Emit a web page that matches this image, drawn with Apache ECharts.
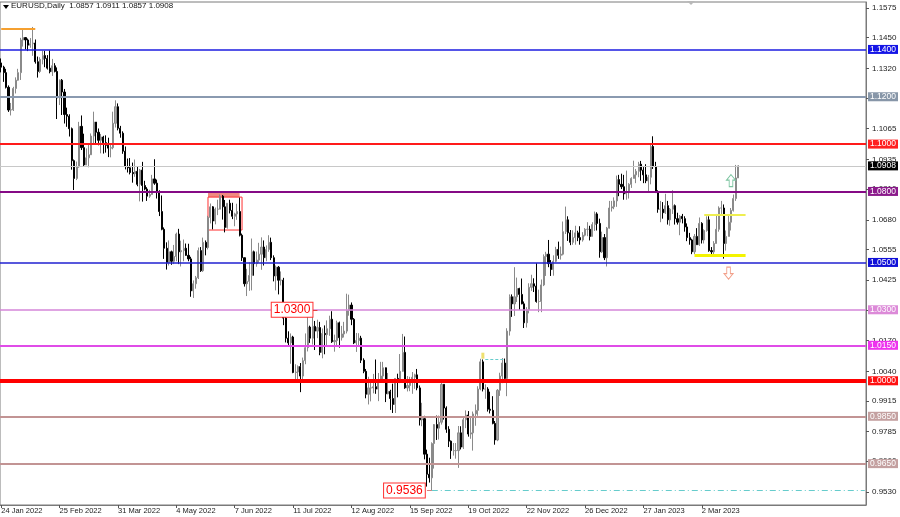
<!DOCTYPE html>
<html><head><meta charset="utf-8">
<script src="https://cdn.jsdelivr.net/npm/echarts@6/dist/echarts.min.js"></script>
<style>html,body{margin:0;padding:0;background:#fff}#c{width:900px;height:517px}</style>
</head><body><div id="c"></div><script>
// Daily EURUSD candles, [open, high, low, close] in units of 0.0001
const jan22 = [[11343,11362,11303,11325],[11325,11331,11263,11302],[11302,11318,11235,11240],[11240,11248,11136,11144],[11144,11174,11121,11145],[11145,11242,11140,11235]];
const feb22 = [[11235,11282,11214,11270],[11270,11318,11268,11302],[11302,11449,11271,11440],[11440,11484,11412,11450],[11450,11448,11400,11440],[11440,11446,11393,11418],[11418,11448,11407,11424],[11424,11495,11373,11427],[11427,11442,11340,11348],[11348,11370,11281,11307],[11307,11367,11300,11358],[11358,11395,11337,11374],[11374,11394,11325,11362],[11362,11376,11315,11321],[11321,11396,11299,11306],[11306,11360,11288,11331],[11331,11342,11303,11307],[11307,11324,11106,11195],[11195,11273,11165,11270],[11270,11275,11123,11220]];
const mar22 = [[11220,11233,11087,11125],[11125,11154,11073,11118],[11118,11126,11032,11065],[11065,11070,10892,10930],[10930,10935,10806,10855],[10855,10926,10848,10904],[10904,11094,10900,11075],[11075,11121,10975,10985],[10985,11044,10905,10912],[10912,10982,10911,10942],[10942,10998,10902,10955],[10955,11045,10954,11034],[11034,11137,11002,11093],[11093,11092,11001,11050],[11050,11066,10995,11016],[11016,11043,10961,11030],[11030,11035,10960,11006],[11006,11037,10964,10995],[10995,11027,10945,10983],[10983,11001,10944,10985],[10985,11137,10978,11088],[11088,11185,11070,11158],[11158,11172,11058,11067]];
const apr22 = [[11067,11077,11027,11046],[11046,11054,10959,10970],[10970,10990,10893,10905],[10905,10939,10880,10900],[10900,10941,10872,10880],[10880,10922,10837,10875],[10875,10935,10862,10885],[10885,10907,10822,10830],[10830,10895,10758,10890],[10890,10925,10757,10825],[10825,10845,10805,10810],[10810,10818,10760,10780],[10780,10807,10773,10787],[10787,10870,10786,10853],[10853,10936,10828,10835],[10835,10850,10770,10800],[10800,10805,10696,10715],[10715,10783,10636,10640],[10640,10648,10515,10560],[10560,10585,10470,10500],[10500,10593,10487,10545]];
const may22 = [[10545,10550,10490,10505],[10505,10574,10493,10525],[10525,10626,10505,10620],[10620,10642,10493,10545],[10545,10592,10483,10550],[10550,10597,10505,10560],[10560,10580,10528,10530],[10530,10579,10505,10515],[10515,10524,10355,10380],[10380,10424,10350,10410],[10410,10443,10389,10435],[10435,10563,10430,10550],[10550,10565,10460,10465],[10465,10605,10460,10585],[10585,10593,10530,10563],[10563,10697,10555,10690],[10690,10749,10665,10735],[10735,10738,10640,10675],[10675,10732,10661,10725],[10725,10765,10700,10725],[10725,10787,10725,10780],[10780,10785,10681,10735]];
const jun22 = [[10735,10764,10627,10648],[10648,10751,10643,10750],[10750,10765,10707,10720],[10720,10752,10683,10695],[10695,10710,10653,10705],[10705,10748,10680,10715],[10715,10774,10610,10615],[10615,10622,10506,10520],[10520,10520,10398,10410],[10410,10473,10358,10420],[10420,10500,10380,10445],[10445,10601,10382,10545],[10545,10550,10444,10495],[10495,10546,10482,10510],[10510,10583,10499,10535],[10535,10606,10469,10565],[10565,10593,10487,10520],[10520,10572,10505,10555],[10555,10615,10545,10585],[10585,10605,10510,10520],[10520,10530,10420,10443],[10443,10487,10382,10480]];
const jul22 = [[10480,10485,10365,10425],[10425,10462,10403,10425],[10425,10435,10235,10265],[10265,10275,10162,10180],[10180,10209,10145,10160],[10160,10200,10072,10185],[10185,10190,10032,10035],[10035,10070,9999,10037],[10037,10065,9998,10060],[10060,10075,9952,10020],[10020,10098,10005,10085],[10085,10200,10070,10140],[10140,10270,10124,10227],[10227,10233,10160,10180],[10180,10279,10153,10230],[10230,10253,10130,10210],[10210,10258,10180,10225],[10225,10249,10108,10120],[10120,10221,10095,10200],[10200,10234,10112,10195],[10195,10255,10145,10220]];
const aug22 = [[10220,10275,10190,10260],[10260,10294,10160,10165],[10165,10195,10123,10170],[10170,10254,10150,10245],[10245,10250,10140,10182],[10182,10232,10170,10198],[10198,10249,10183,10210],[10210,10368,10200,10297],[10297,10364,10275,10320],[10320,10331,10235,10260],[10260,10265,10155,10160],[10160,10202,10122,10170],[10170,10201,10150,10180],[10180,10190,10075,10087],[10087,10095,10032,10040],[10040,10050,9926,9943],[9943,10017,9900,9970],[9970,9999,9913,9970],[9970,10029,9947,9975],[9975,10090,9945,9965],[9965,10033,9914,10000],[10000,10080,9998,10020],[10020,10080,9999,10055]];
const sep22 = [[10055,10056,9910,9945],[9945,10033,9943,9955],[9955,9962,9877,9925],[9925,9988,9864,9900],[9900,10011,9864,10010],[10010,10030,9930,10000],[10000,10113,9990,10040],[10040,10198,10038,10120],[10120,10187,9966,9970],[9970,10020,9955,9980],[9980,10017,9956,9995],[9995,10037,9945,10015],[10015,10030,9966,10025],[10025,10050,9960,9970],[9970,9980,9811,9835],[9835,9907,9808,9840],[9840,9852,9668,9690],[9690,9709,9553,9605],[9605,9675,9570,9590],[9590,9740,9536,9735],[9735,9817,9629,9815],[9815,9853,9750,9800]];
const oct22 = [[9800,9853,9752,9825],[9825,9999,9815,9985],[9985,9985,9836,9885],[9885,9892,9780,9795],[9795,9808,9720,9745],[9745,9748,9670,9705],[9705,9737,9684,9705],[9705,9737,9671,9705],[9705,9809,9632,9780],[9780,9808,9710,9720],[9720,9849,9712,9835],[9835,9875,9800,9855],[9855,9872,9764,9775],[9775,9845,9755,9780],[9780,9870,9705,9860],[9860,9900,9810,9875],[9875,9977,9852,9965],[9965,10093,9960,10080],[10080,10090,9955,9965],[9965,9985,9924,9965],[9965,9973,9870,9880]];
const nov22 = [[9880,9954,9862,9875],[9875,9935,9816,9820],[9820,9830,9730,9750],[9750,9965,9745,9960],[9960,10034,9936,10020],[10020,10096,9990,10075],[10075,10094,9992,10010],[10010,10222,9935,10210],[10210,10365,10191,10355],[10355,10365,10270,10325],[10325,10480,10274,10355],[10355,10436,10333,10390],[10390,10393,10300,10365],[10365,10432,10323,10325],[10325,10335,10223,10245],[10245,10311,10225,10300],[10300,10412,10285,10395],[10395,10448,10380,10410],[10410,10433,10375,10400],[10400,10497,10330,10335],[10335,10385,10290,10335],[10335,10428,10290,10405]];
const dec22 = [[10405,10534,10400,10525],[10525,10545,10443,10535],[10535,10595,10480,10495],[10495,10510,10443,10470],[10470,10530,10444,10505],[10505,10566,10501,10555],[10555,10588,10515,10530],[10530,10567,10512,10535],[10535,10673,10530,10630],[10630,10736,10620,10680],[10680,10695,10591,10625],[10625,10637,10573,10585],[10585,10636,10575,10605],[10605,10655,10575,10625],[10625,10634,10590,10605],[10605,10653,10575,10595],[10595,10628,10588,10615],[10615,10645,10610,10640],[10640,10670,10611,10640],[10640,10655,10593,10610],[10610,10670,10610,10660],[10660,10715,10633,10705]];
const jan23 = [[10705,10712,10635,10665],[10665,10685,10520,10545],[10545,10630,10540,10605],[10605,10620,10510,10520],[10520,10650,10483,10645],[10645,10760,10643,10730],[10730,10760,10715,10735],[10735,10775,10725,10760],[10760,10867,10735,10850],[10850,10870,10780,10830],[10830,10875,10810,10820],[10820,10870,10765,10790],[10790,10888,10765,10795],[10795,10835,10770,10830],[10830,10860,10815,10855],[10855,10930,10855,10870],[10870,10895,10835,10885],[10885,10925,10860,10915],[10915,10929,10845,10890],[10890,10903,10835,10870],[10870,10915,10835,10845],[10845,10870,10800,10860]];
const feb23 = [[10860,11000,10830,10990],[10990,11033,10895,10905],[10905,10925,10795,10795],[10795,10805,10710,10725],[10725,10760,10670,10725],[10725,10755,10685,10710],[10710,10790,10705,10740],[10740,10760,10660,10680],[10680,10730,10655,10725],[10725,10805,10705,10740],[10740,10745,10660,10685],[10685,10710,10660,10670],[10670,10700,10615,10695],[10695,10705,10665,10685],[10685,10695,10630,10650],[10650,10665,10590,10605],[10605,10625,10575,10595],[10595,10600,10535,10545],[10545,10620,10535,10610],[10610,10645,10575,10575]];
const mar23 = [[10575,10690,10570,10665],[10665,10670,10580,10595],[10595,10640,10580,10635],[10635,10695,10630,10680],[10680,10695,10545,10550],[10550,10565,10524,10545],[10545,10590,10535,10580],[10580,10705,10580,10640],[10640,10737,10630,10730],[10730,10760,10705,10730],[10730,10745,10516,10580],[10580,10635,10550,10610],[10610,10700,10610,10670],[10670,10730,10635,10720],[10720,10787,10715,10770],[10770,10912,10760,10857],[10857,10911,10857,10908]];

const xTickLabels = ['24 Jan 2022','25 Feb 2022','31 Mar 2022','4 May 2022','7 Jun 2022','11 Jul 2022','12 Aug 2022','15 Sep 2022','19 Oct 2022','22 Nov 2022','26 Dec 2022','27 Jan 2023','2 Mar 2023'];
const yTickValues = [1.1575,1.1450,1.1320,1.1195,1.1065,1.0935,1.0810,1.0680,1.0555,1.0425,1.0300,1.0170,1.0040,0.9915,0.9785,0.9660,0.9530];
const levels = [1.1400,1.1200,1.1000,1.0800,1.0500,1.0300,1.0150,1.0000,0.9850,0.9650];
const yRange = [0.94752, 1.16004];
const slotCount = 356;

// annotation values [index, price]
const topMarker = [[0,1.1487],[14,1.1487]];
const lowValue = 0.9536, lowIndex = 177;
const textLevel = [130, 1.0300];
const filledBox = [[85,1.0802],[98,1.0776]];
const outlineBox = [[85,1.0776],[99,1.0637]];
const yellowUpper = [[289,1.0700],[306,1.0700]];
const yellowLower = [[285,1.0532],[306,1.0532]];
const upArrow = [300,1.0846], downArrow = [299,1.0455];
const octMark = [198,1.0106];
const octDash = [[199,1.0092],[207,1.0092]];

const levelStyles = [
  {line:'#1c1ce0', w:1.5, tag:'#1414e6'},
  {line:'#8a9ab0', w:2, tag:'#8796a8'},
  {line:'#ff1a1a', w:2, tag:'#ff2020'},
  {line:'#850a85', w:2, tag:'#8b1a8b'},
  {line:'#2020d0', w:1.5, tag:'#1010d8'},
  {line:'#d486d8', w:1.5, tag:'#dc8ad8'},
  {line:'#e04ce8', w:2, tag:'#ee33ee'},
  {line:'#ff0000', w:4, tag:'#ff1010'},
  {line:'#c29494', w:2, tag:'#c4a0a0'},
  {line:'#c29494', w:2, tag:'#c4a0a0'}
];

const months = ['Jan','Feb','Mar','Apr','May','Jun','Jul','Aug','Sep','Oct','Nov','Dec'];
const categories = [];
{
  let d = new Date(Date.UTC(2022,0,24));
  while (categories.length < slotCount) {
    const wd = d.getUTCDay();
    if (wd !== 0 && wd !== 6) categories.push(d.getUTCDate()+' '+months[d.getUTCMonth()]+' '+d.getUTCFullYear());
    d = new Date(d.getTime() + 86400000);
  }
}
const candles = [].concat(jan22,feb22,mar22,apr22,may22,jun22,jul22,aug22,sep22,oct22,nov22,dec22,jan23,feb23,mar23);
const data = candles.map(([o,h,l,c]) => [o/1e4, c/1e4, l/1e4, h/1e4]);
const last = candles[candles.length-1].map(v => (v/1e4).toFixed(4));
const lastClose = candles[candles.length-1][3]/1e4;

const FONT = '"Liberation Sans", sans-serif';
function tag(bg){
  return {show:true, position:'end', distance:2, formatter:p=>p.value.toFixed(4),
    color:'#fff', backgroundColor:bg, fontFamily:FONT, fontSize:8.5, lineHeight:9, padding:[0,2,0,2]};
}
const markLines = levels.map((v,i)=>({yAxis:v, lineStyle:{color:levelStyles[i].line, width:levelStyles[i].w, type:'solid'}, label:tag(levelStyles[i].tag)}));
markLines.push({yAxis:lastClose, lineStyle:{color:'#c8c8c8', width:1, type:'solid'}, label:tag('#000')});
const seg = (pts, style) => [{coord:pts[0], lineStyle:style, label:{show:false}}, {coord:pts[1]}];
markLines.push(seg(topMarker, {color:'#f5a030', width:2, type:'solid'}));
markLines.push(seg(yellowUpper, {color:'#eeee50', width:2, type:'solid'}));
markLines.push(seg(yellowLower, {color:'#f4f400', width:3, type:'solid'}));
markLines.push(seg([[lowIndex,lowValue],[slotCount-1,lowValue]], {color:'#66cccc', width:1, type:[6,3,1,3]}));
markLines.push(seg([[lowIndex-2,lowValue],[lowIndex,lowValue]], {color:'#d08080', width:1, type:'solid'}));
markLines.push(seg([[textLevel[0]-2,textLevel[1]],[textLevel[0],textLevel[1]]], {color:'#e04040', width:1, type:'solid'}));
markLines.push(seg(octDash, {color:'#66cccc', width:1, type:[3,2]}));

const boxLabel = {show:true, position:'left', color:'#ff0000', backgroundColor:'#fff', borderColor:'#ff3030', borderWidth:1,
  fontFamily:FONT, fontSize:12, lineHeight:13, padding:[1,2,0,2]};

const option = {
  animation:false,
  backgroundColor:'#fff',
  grid:{left:0, right:34, top:2, bottom:12, show:true, borderColor:'#7a7a7a', borderWidth:1, outerBoundsMode:'none', containLabel:false},
  xAxis:{type:'category', data:categories, boundaryGap:true,
    axisLine:{show:true, lineStyle:{color:'#7a7a7a'}},
    axisTick:{show:true, alignWithLabel:true, length:3, interval:(i,v)=>xTickLabels.includes(v), lineStyle:{color:'#555'}},
    axisLabel:{show:true, interval:(i,v)=>xTickLabels.includes(v), align:'left', margin:2, fontSize:7.5, fontFamily:FONT, color:'#222', formatter:v=>xTickLabels.includes(v)?v:''},
    splitLine:{show:false}},
  yAxis:{type:'value', position:'right', min:yRange[0], max:yRange[1], scale:true,
    axisLine:{show:true, lineStyle:{color:'#7a7a7a'}},
    axisTick:{show:true, length:3, customValues:yTickValues, lineStyle:{color:'#555'}},
    axisLabel:{show:true, customValues:yTickValues, margin:6, fontSize:8, fontFamily:FONT, color:'#222', formatter:v=>v.toFixed(4)},
    splitLine:{show:false}},
  series:[{
    type:'candlestick', data:data, barWidth:1.6, clip:true,
    itemStyle:{color:'#a8a8a8', color0:'#000', borderColor:'#8a8a8a', borderColor0:'#000', borderWidth:1},
    markLine:{silent:true, symbol:['none','none'], animation:false, precision:4, data:markLines},
    markArea:{silent:true, data:[
      [{coord:filledBox[0], itemStyle:{color:'#f08a80', borderWidth:0}}, {coord:filledBox[1]}],
      [{coord:outlineBox[0], itemStyle:{color:'rgba(255,255,255,0)', borderColor:'#ff3030', borderWidth:1}}, {coord:outlineBox[1]}]
    ]},
    markPoint:{silent:true, animation:false, data:[
      {coord:[lowIndex,lowValue], symbol:'rect', symbolSize:0, label:Object.assign({}, boxLabel, {distance:7, formatter:lowValue.toFixed(4)})},
      {coord:textLevel, symbol:'rect', symbolSize:0, label:Object.assign({}, boxLabel, {distance:5, formatter:textLevel[1].toFixed(4)})},
      {coord:upArrow, symbol:'path://M5 0 L10 6 L7 6 L7 13 L3 13 L3 6 L0 6 Z', symbolSize:[9,12], itemStyle:{color:'#fff', borderColor:'#7cc4a0', borderWidth:1}, label:{show:false}},
      {coord:downArrow, symbol:'path://M3 0 L7 0 L7 7 L10 7 L5 13 L0 7 L3 7 Z', symbolSize:[9,12], itemStyle:{color:'#fff', borderColor:'#f2a08a', borderWidth:1}, label:{show:false}},
      {coord:octMark, symbol:'rect', symbolSize:[3,6], itemStyle:{color:'#efe070'}, label:{show:false}}
    ]}
  }],
  graphic:[
    {type:'polygon', shape:{points:[[3,5],[9,5],[6,9]]}, style:{fill:'#000'}},
    {type:'text', left:11, top:2, style:{text:'EURUSD,Daily  '+last.join(' '), fill:'#111', font:'8px "Liberation Sans", sans-serif'}},
    {type:'polygon', shape:{points:[[687,1],[695,1],[691,5]]}, style:{fill:'#b8b8b8'}}
  ]
};
const chart = echarts.init(document.getElementById('c'), null, {renderer:'canvas'});
chart.setOption(option);
</script></body></html>
